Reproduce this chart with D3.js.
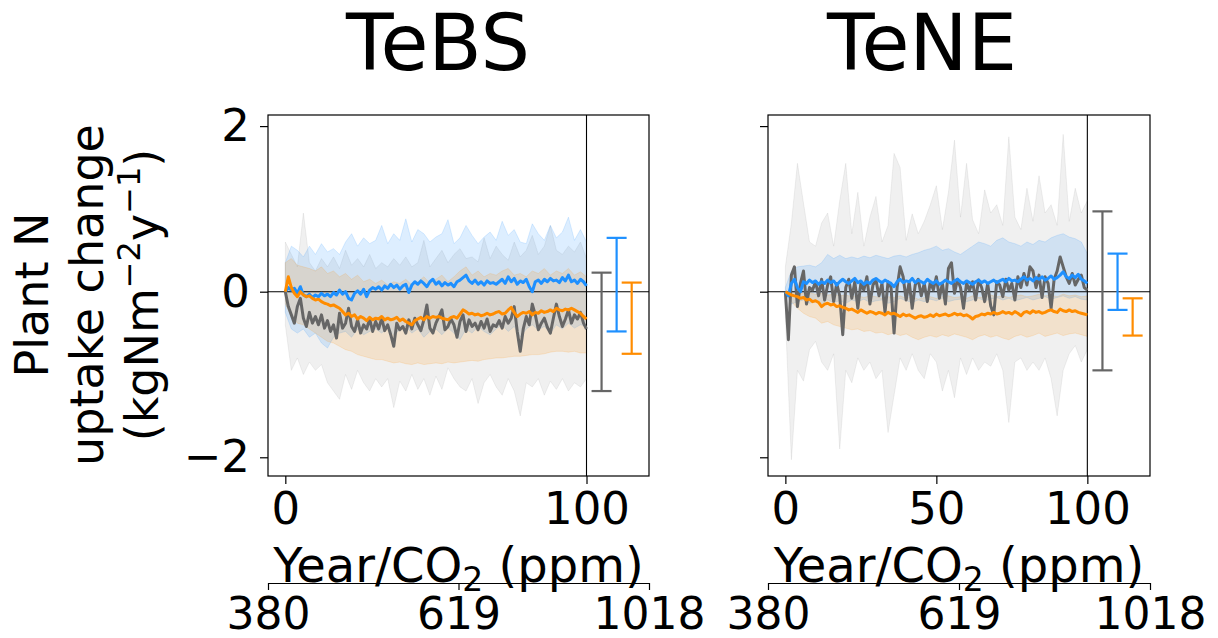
<!DOCTYPE html>
<html><head><meta charset="utf-8">
<script src="https://cdn.jsdelivr.net/npm/d3@7"></script>
<style>body{margin:0;background:#fff}svg{display:block}text{font-family:"DejaVu Sans",sans-serif;fill:#000}</style>
</head><body><svg id="c" width="1218" height="638"></svg>
<script>
// ---------------- data ----------------
const panelNames = ["TeBS", "TeNE"];
const xTickValues = [[0, 100], [0, 50, 100]];
const yTickValues = [-2, 0, 2];
const co2TickLabels = ["380", "619", "1018"];
const years = d3.range(0, 101);
const bandYears = d3.range(0, 101, 2);
const errX = [105, 110, 115];

const tebsGrey = [0.00,-0.18,-0.28,-0.38,-0.18,-0.08,-0.32,-0.42,-0.25,-0.38,
-0.30,-0.40,-0.28,-0.44,-0.35,-0.48,-0.40,-0.56,-0.26,-0.44,
-0.38,-0.20,-0.42,-0.48,-0.34,-0.50,-0.40,-0.45,-0.33,-0.48,
-0.36,-0.45,-0.32,-0.47,-0.40,-0.52,-0.66,-0.38,-0.46,-0.42,
-0.50,-0.34,-0.45,-0.32,-0.40,-0.47,-0.34,-0.16,-0.44,-0.50,
-0.38,-0.30,-0.22,-0.46,-0.42,-0.33,-0.40,-0.55,-0.36,-0.28,
-0.48,-0.34,-0.42,-0.38,-0.46,-0.36,-0.44,-0.33,-0.48,-0.40,
-0.42,-0.35,-0.44,-0.30,-0.38,-0.32,-0.18,-0.48,-0.72,-0.45,
-0.30,-0.40,-0.15,-0.28,-0.46,-0.38,-0.32,-0.43,-0.50,-0.32,
-0.15,-0.30,-0.42,-0.33,-0.22,-0.38,-0.28,-0.33,-0.25,-0.38,
-0.45];
const tebsBlue = [0.00,0.05,0.02,0.04,-0.02,0.06,-0.04,-0.06,-0.03,-0.07,
-0.04,-0.06,-0.02,-0.05,-0.03,-0.06,-0.01,-0.04,0.02,-0.03,
0.00,-0.08,-0.10,-0.02,0.01,-0.03,0.03,-0.06,0.02,0.05,
0.03,0.06,0.02,0.07,0.04,0.09,0.05,0.08,0.03,0.07,
0.09,-0.01,0.08,0.12,0.09,0.13,0.10,0.06,0.12,0.15,
0.09,0.12,0.07,0.11,0.08,0.10,0.06,0.12,0.14,0.17,
0.20,0.13,0.10,0.14,0.09,0.12,0.08,0.13,0.10,0.11,
0.09,0.12,0.15,0.10,0.18,0.12,0.16,0.09,0.13,0.11,
0.15,0.06,0.00,0.12,0.14,0.10,0.15,0.12,0.16,0.13,
0.14,0.11,0.17,0.13,0.20,0.12,0.14,0.10,0.15,0.12,
0.07];
const tebsOrange = [0.00,0.18,0.05,-0.02,-0.06,0.00,-0.04,-0.06,-0.05,-0.08,
-0.10,-0.09,-0.12,-0.14,-0.15,-0.17,-0.16,-0.18,-0.20,-0.24,
-0.28,-0.26,-0.30,-0.28,-0.33,-0.30,-0.32,-0.35,-0.31,-0.34,
-0.32,-0.33,-0.30,-0.34,-0.32,-0.34,-0.33,-0.31,-0.35,-0.33,
-0.36,-0.38,-0.40,-0.35,-0.33,-0.31,-0.34,-0.30,-0.32,-0.30,
-0.31,-0.30,-0.32,-0.33,-0.34,-0.31,-0.30,-0.32,-0.27,-0.22,
-0.24,-0.27,-0.26,-0.28,-0.27,-0.29,-0.28,-0.26,-0.28,-0.27,
-0.25,-0.24,-0.27,-0.26,-0.22,-0.19,-0.25,-0.30,-0.27,-0.25,
-0.26,-0.24,-0.28,-0.25,-0.26,-0.23,-0.25,-0.24,-0.22,-0.24,
-0.20,-0.22,-0.23,-0.21,-0.22,-0.20,-0.22,-0.24,-0.26,-0.30,
-0.33];
const tebsGreyHi = [0.60,0.45,0.30,0.95,0.35,0.25,0.40,0.30,0.42,0.28,
0.50,0.32,0.40,0.30,0.45,0.28,0.35,0.30,0.40,0.32,
0.42,0.30,0.35,0.62,0.30,0.40,0.50,0.35,0.45,0.52,
0.40,0.42,0.36,0.65,0.40,0.55,0.45,0.38,0.60,0.42,
0.50,0.68,0.45,0.55,0.80,0.50,0.45,0.55,0.48,0.60,
0.40];
const tebsGreyLo = [-0.40,-0.95,-0.80,-1.00,-0.85,-0.95,-0.88,-1.10,-1.20,-1.30,
-1.00,-1.18,-0.95,-1.10,-1.20,-1.05,-1.15,-1.05,-1.40,-1.08,
-1.20,-1.00,-1.18,-1.05,-1.25,-1.02,-1.18,-0.92,-1.05,-1.15,
-1.20,-1.05,-1.35,-1.10,-1.00,-1.15,-1.25,-1.05,-1.20,-1.50,
-1.10,-1.15,-1.05,-1.25,-1.08,-1.18,-1.05,-1.20,-1.10,-1.15,
-1.05];
const tebsBlueHi = [0.35,0.55,0.50,0.42,0.55,0.45,0.58,0.48,0.52,0.45,
0.60,0.70,0.55,0.65,0.58,0.62,0.80,0.58,0.70,0.62,
0.88,0.60,0.75,0.70,0.60,0.66,0.70,0.87,0.58,0.65,
0.80,0.68,0.58,0.66,0.72,0.62,0.85,0.68,0.75,0.60,
0.58,0.82,0.70,0.62,0.80,0.65,0.72,0.90,0.62,0.75,
0.60];
const tebsBlueLo = [-0.25,-0.45,-0.50,-0.45,-0.55,-0.50,-0.62,-0.68,-0.55,-0.50,
-0.48,-0.55,-0.45,-0.52,-0.48,-0.45,-0.50,-0.44,-0.52,-0.46,
-0.42,-0.50,-0.45,-0.55,-0.48,-0.45,-0.52,-0.44,-0.50,-0.58,
-0.45,-0.50,-0.42,-0.48,-0.52,-0.45,-0.40,-0.48,-0.42,-0.55,
-0.45,-0.40,-0.46,-0.42,-0.50,-0.40,-0.45,-0.38,-0.44,-0.40,
-0.42];
const tebsOrangeHi = [0.35,0.40,0.32,0.30,0.28,0.25,0.30,0.22,0.25,0.18,
0.22,0.15,0.20,0.12,0.15,0.10,0.14,0.08,0.12,0.10,
0.15,0.08,0.12,0.18,0.10,0.15,0.20,0.12,0.18,0.25,
0.30,0.20,0.25,0.18,0.22,0.20,0.25,0.28,0.20,0.22,
0.18,0.25,0.22,0.28,0.20,0.25,0.22,0.28,0.20,0.24,
0.18];
const tebsOrangeLo = [-0.15,-0.30,-0.38,-0.40,-0.45,-0.50,-0.55,-0.60,-0.62,-0.66,
-0.70,-0.72,-0.76,-0.78,-0.80,-0.82,-0.82,-0.84,-0.86,-0.85,
-0.87,-0.88,-0.86,-0.88,-0.87,-0.86,-0.87,-0.85,-0.86,-0.85,
-0.84,-0.83,-0.84,-0.82,-0.81,-0.80,-0.80,-0.79,-0.78,-0.78,
-0.77,-0.76,-0.76,-0.75,-0.73,-0.72,-0.72,-0.73,-0.72,-0.74,
-0.74];
const tebsErrLow = [-1.20, -0.48, -0.75];
const tebsErrHigh = [0.23, 0.65, 0.11];

const teneGrey = [0.00,-0.58,0.20,0.30,-0.18,0.10,0.25,-0.15,0.05,0.02,
0.12,-0.05,0.15,-0.10,0.08,0.18,-0.12,0.10,-0.05,-0.52,
0.05,0.15,-0.08,0.12,-0.20,0.10,0.02,0.18,-0.15,0.08,
0.14,-0.05,0.10,-0.25,0.12,0.05,-0.50,0.05,0.30,0.18,
-0.10,0.12,-0.20,0.08,0.15,-0.05,0.10,-0.12,0.12,0.02,
0.18,-0.08,0.10,-0.15,0.28,0.35,-0.02,0.15,0.05,-0.20,
0.10,0.02,0.12,-0.10,0.14,0.05,-0.12,0.10,-0.17,-0.28,
0.12,0.08,-0.06,0.15,0.02,0.10,-0.10,0.18,0.05,0.22,
0.08,0.30,0.25,0.05,0.20,-0.07,0.18,0.10,-0.20,0.15,
0.25,0.42,0.30,0.18,0.10,0.22,0.08,0.15,0.20,0.05,
0.02];
const teneBlue = [0.00,-0.05,0.10,0.15,0.05,0.00,0.12,0.10,0.14,0.11,
0.13,0.09,0.12,0.10,0.14,0.11,0.13,0.08,0.12,0.15,
0.12,0.10,0.13,0.16,0.11,0.13,0.09,0.12,0.10,0.14,
0.16,0.13,0.11,0.14,0.12,0.10,0.06,0.12,0.15,0.11,
0.13,0.12,0.16,0.11,0.14,0.12,0.10,0.15,0.12,0.10,
0.13,0.09,0.11,0.14,0.12,0.10,0.13,0.15,0.12,0.10,
0.13,0.11,0.09,0.12,0.14,0.11,0.13,0.10,0.12,0.14,
0.11,0.13,0.15,0.12,0.16,0.13,0.14,0.12,0.15,0.18,
0.14,0.16,0.13,0.17,0.15,0.18,0.14,0.16,0.19,0.15,
0.17,0.20,0.24,0.18,0.16,0.20,0.17,0.21,0.15,0.13,
0.10];
const teneOrange = [0.00,-0.02,-0.04,-0.05,-0.06,-0.08,-0.07,-0.10,-0.09,-0.12,
-0.11,-0.13,-0.18,-0.15,-0.14,-0.16,-0.15,-0.18,-0.17,-0.19,
-0.20,-0.22,-0.21,-0.23,-0.25,-0.22,-0.24,-0.26,-0.24,-0.25,
-0.27,-0.25,-0.26,-0.28,-0.25,-0.27,-0.26,-0.28,-0.30,-0.27,
-0.29,-0.28,-0.30,-0.32,-0.30,-0.29,-0.31,-0.30,-0.28,-0.30,
-0.27,-0.29,-0.28,-0.27,-0.29,-0.28,-0.26,-0.28,-0.27,-0.29,
-0.28,-0.30,-0.33,-0.30,-0.29,-0.27,-0.28,-0.26,-0.27,-0.25,
-0.27,-0.26,-0.24,-0.26,-0.25,-0.27,-0.24,-0.26,-0.29,-0.25,
-0.24,-0.26,-0.23,-0.25,-0.24,-0.26,-0.25,-0.23,-0.22,-0.24,
-0.25,-0.21,-0.23,-0.24,-0.22,-0.24,-0.23,-0.25,-0.26,-0.27,
-0.28];
const teneGreyHi = [0.30,0.83,1.55,1.07,0.60,0.55,0.83,0.95,0.55,1.10,
1.55,0.70,1.20,0.55,0.90,1.15,0.60,0.80,1.67,1.50,
0.62,0.94,0.70,0.85,1.05,1.28,0.75,1.20,1.83,0.90,
1.55,0.87,0.70,1.23,0.95,1.05,0.80,1.87,0.90,0.75,
1.25,0.85,1.40,0.95,1.05,0.80,1.90,0.85,1.25,0.95,
1.10];
const teneGreyLo = [-0.30,-2.03,-0.95,-1.08,-0.70,-0.60,-0.85,-0.95,-0.75,-1.90,
-0.95,-1.10,-0.80,-0.95,-0.85,-1.05,-0.95,-1.70,-1.25,-0.80,
-0.95,-0.75,-0.95,-1.05,-0.75,-0.85,-1.20,-0.95,-1.28,-0.80,
-1.00,-0.80,-0.95,-0.85,-0.90,-0.75,-0.95,-1.58,-0.85,-0.80,
-0.95,-0.85,-0.95,-0.80,-1.05,-1.50,-0.95,-0.75,-0.65,-0.85,
-0.70];
const teneBlueHi = [0.05,0.25,0.30,0.31,0.32,0.30,0.35,0.45,0.40,0.44,
0.40,0.42,0.40,0.43,0.41,0.44,0.42,0.40,0.43,0.44,
0.42,0.45,0.47,0.50,0.52,0.55,0.50,0.52,0.48,0.45,
0.50,0.55,0.60,0.58,0.55,0.62,0.65,0.60,0.58,0.55,
0.60,0.57,0.62,0.60,0.65,0.68,0.70,0.66,0.64,0.60,
0.46];
const teneBlueLo = [-0.02,-0.15,-0.12,-0.10,-0.14,-0.12,-0.15,-0.10,-0.13,-0.11,
-0.14,-0.10,-0.12,-0.09,-0.13,-0.11,-0.10,-0.14,-0.12,-0.08,
-0.11,-0.13,-0.10,-0.12,-0.09,-0.11,-0.08,-0.12,-0.10,-0.09,
-0.12,-0.10,-0.08,-0.11,-0.09,-0.07,-0.10,-0.08,-0.11,-0.09,
-0.07,-0.10,-0.08,-0.06,-0.09,-0.07,-0.05,-0.08,-0.06,-0.09,
-0.10];
const teneOrangeHi = [0.00,0.00,-0.01,-0.02,-0.01,-0.03,-0.02,-0.04,-0.03,-0.05,
-0.04,-0.06,-0.05,-0.07,-0.05,-0.06,-0.08,-0.06,-0.07,-0.05,
-0.08,-0.06,-0.09,-0.07,-0.06,-0.08,-0.06,-0.05,-0.07,-0.06,
-0.08,-0.05,-0.07,-0.06,-0.04,-0.06,-0.05,-0.07,-0.05,-0.04,
-0.06,-0.05,-0.03,-0.05,-0.04,-0.06,-0.03,-0.05,-0.04,-0.06,
-0.05];
const teneOrangeLo = [-0.02,-0.12,-0.20,-0.26,-0.30,-0.32,-0.38,-0.36,-0.40,-0.42,
-0.44,-0.46,-0.45,-0.48,-0.47,-0.50,-0.49,-0.52,-0.50,-0.53,
-0.51,-0.55,-0.58,-0.55,-0.53,-0.55,-0.52,-0.54,-0.51,-0.53,
-0.55,-0.58,-0.54,-0.52,-0.55,-0.53,-0.56,-0.58,-0.54,-0.52,
-0.55,-0.53,-0.50,-0.54,-0.52,-0.50,-0.53,-0.51,-0.50,-0.52,
-0.54];
const teneErrLow = [-0.95, -0.22, -0.53];
const teneErrHigh = [0.97, 0.46, -0.08];

// ---------------- drawing ----------------
const svg = d3.select("#c");
const lineColor = { grey: "#666666", blue: "#1e90ff", orange: "#ff8c00" };
const bandColor = { grey: "#808080", blue: "#1e90ff", orange: "#ff8c00" };
const bandOpacity = { grey: 0.12, blue: 0.15, orange: 0.15 };
const order = ["grey", "blue", "orange"];

const panels = [
  { left: 268, right: 649, titleX: 438, showY: true,
    lines: { grey: tebsGrey, blue: tebsBlue, orange: tebsOrange },
    hi: { grey: tebsGreyHi, blue: tebsBlueHi, orange: tebsOrangeHi },
    lo: { grey: tebsGreyLo, blue: tebsBlueLo, orange: tebsOrangeLo },
    errLo: tebsErrLow, errHi: tebsErrHigh },
  { left: 768, right: 1150, titleX: 922, showY: false,
    lines: { grey: teneGrey, blue: teneBlue, orange: teneOrange },
    hi: { grey: teneGreyHi, blue: teneBlueHi, orange: teneOrangeHi },
    lo: { grey: teneGreyLo, blue: teneBlueLo, orange: teneOrangeLo },
    errLo: teneErrLow, errHi: teneErrHigh }
];
const plotTop = 115, plotBottom = 476;
const FS = 45;

panels.forEach((p, pi) => {
  const x = d3.scaleLinear().domain([-5.75, 120.75]).range([p.left, p.right]);
  const y = d3.scaleLinear().domain([-2.226, 2.134]).range([plotBottom, plotTop]);
  const g = svg.append("g");
  const clipId = "clip" + pi;
  svg.append("clipPath").attr("id", clipId).append("rect")
    .attr("x", p.left).attr("y", plotTop).attr("width", p.right - p.left).attr("height", plotBottom - plotTop);
  const plot = g.append("g").attr("clip-path", `url(#${clipId})`);

  order.forEach(k => {
    const area = d3.area().x((d, i) => x(bandYears[i])).y0((d, i) => y(p.lo[k][i])).y1(d => y(d));
    plot.append("path").datum(p.hi[k]).attr("d", area)
      .attr("fill", bandColor[k]).attr("fill-opacity", bandOpacity[k])
      .attr("stroke", bandColor[k]).attr("stroke-opacity", bandOpacity[k]).attr("stroke-width", 1);
  });
  plot.append("line").attr("x1", p.left).attr("x2", p.right).attr("y1", y(0)).attr("y2", y(0))
    .attr("stroke", "#000").attr("stroke-width", 1.1);
  plot.append("line").attr("x1", x(100)).attr("x2", x(100)).attr("y1", plotTop).attr("y2", plotBottom)
    .attr("stroke", "#000").attr("stroke-width", 1.1);
  order.forEach(k => {
    const ln = d3.line().x((d, i) => x(years[i])).y(d => y(d));
    plot.append("path").datum(p.lines[k]).attr("d", ln).attr("fill", "none")
      .attr("stroke", lineColor[k]).attr("stroke-width", 3).attr("stroke-linejoin", "round");
  });
  order.forEach((k, i) => {
    const cx = x(errX[i]);
    const eg = g.append("g").attr("stroke", lineColor[k]).attr("stroke-width", 2.2);
    eg.append("line").attr("x1", cx).attr("x2", cx).attr("y1", y(p.errLo[i])).attr("y2", y(p.errHi[i]));
    eg.append("line").attr("x1", cx - 10).attr("x2", cx + 10).attr("y1", y(p.errLo[i])).attr("y2", y(p.errLo[i]));
    eg.append("line").attr("x1", cx - 10).attr("x2", cx + 10).attr("y1", y(p.errHi[i])).attr("y2", y(p.errHi[i]));
  });

  g.append("rect").attr("x", p.left).attr("y", plotTop).attr("width", p.right - p.left).attr("height", plotBottom - plotTop)
    .attr("fill", "none").attr("stroke", "#000").attr("stroke-width", 1.2);

  const ya = g.append("g").attr("transform", `translate(${p.left},0)`)
    .call(d3.axisLeft(y).tickValues(yTickValues).tickFormat(d3.format("d")).tickSize(8).tickPadding(10).tickSizeOuter(0));
  ya.select(".domain").remove();
  ya.selectAll(".tick line").attr("stroke", "#000").attr("stroke-width", 1.2);
  ya.selectAll("text").attr("font-size", FS).attr("font-family", "DejaVu Sans").attr("fill", "#000");
  if (!p.showY) ya.selectAll("text").remove();

  const xa = g.append("g").attr("transform", `translate(0,${plotBottom})`)
    .call(d3.axisBottom(x).tickValues(xTickValues[pi]).tickFormat(d3.format("d")).tickSize(8).tickPadding(8).tickSizeOuter(0));
  xa.select(".domain").remove();
  xa.selectAll(".tick line").attr("stroke", "#000").attr("stroke-width", 1.2);
  xa.selectAll("text").attr("font-size", FS).attr("font-family", "DejaVu Sans").attr("fill", "#000");

  const cxm = (p.left + p.right) / 2;
  const xl = g.append("text").attr("x", cxm).attr("y", 582).attr("text-anchor", "middle").attr("font-size", 48);
  xl.append("tspan").text("Year/CO");
  xl.append("tspan").attr("font-size", 33).attr("dy", 9).text("2");
  xl.append("tspan").attr("dy", -9).text(" (ppm)");

  const c = d3.scalePoint().domain(co2TickLabels).range([p.left, p.right]);
  const ca = g.append("g").attr("transform", "translate(0,583)")
    .call(d3.axisBottom(c).tickSize(7).tickPadding(8).tickSizeOuter(0));
  ca.select(".domain").attr("stroke", "#000").attr("stroke-width", 1.2);
  ca.selectAll(".tick line").attr("stroke", "#000").attr("stroke-width", 1.2);
  ca.selectAll("text").attr("font-size", 44).attr("font-family", "DejaVu Sans").attr("fill", "#000");

  g.append("text").attr("x", p.titleX).attr("y", 70).attr("text-anchor", "middle")
    .attr("font-size", 78).text(panelNames[pi]);
});

// y label: three rotated lines
const ylLines = [["Plant N"], ["uptake change"]];
const ylBase = [48, 103, 158];
ylLines.forEach((t, i) => {
  svg.append("text").attr("transform", `translate(${ylBase[i]},295) rotate(-90)`)
    .attr("text-anchor", "middle").attr("font-size", 46).text(t[0]);
});
const l3 = svg.append("text").attr("transform", `translate(${ylBase[2]},295) rotate(-90)`)
  .attr("text-anchor", "middle").attr("font-size", 46);
l3.append("tspan").text("(kgNm");
l3.append("tspan").attr("font-size", 32).attr("dy", -18).text("−2");
l3.append("tspan").attr("font-size", 46).attr("dy", 18).text("y");
l3.append("tspan").attr("font-size", 32).attr("dy", -18).text("−1");
l3.append("tspan").attr("font-size", 46).attr("dy", 18).text(")");
</script></body></html>
